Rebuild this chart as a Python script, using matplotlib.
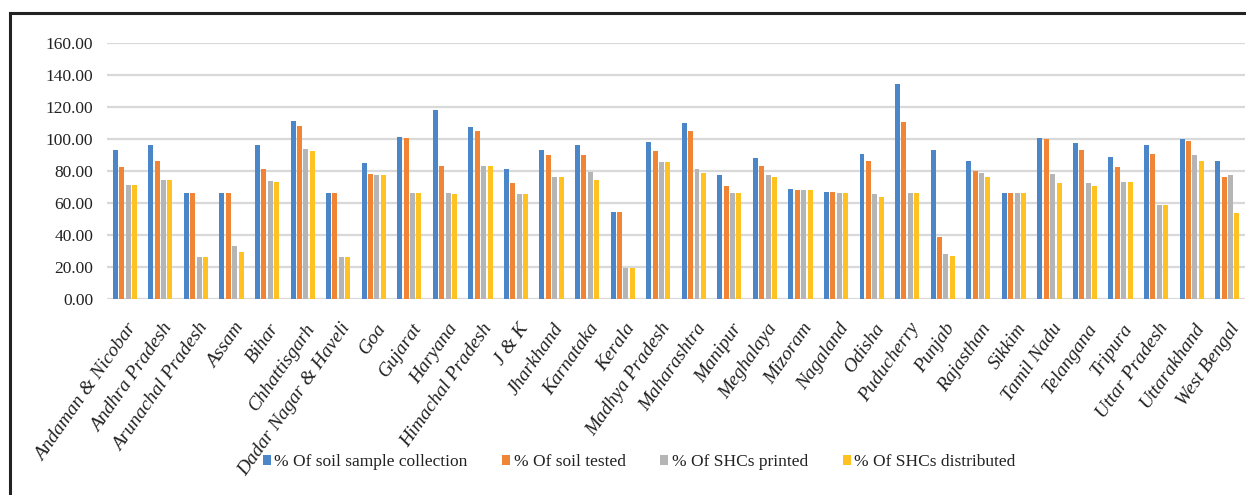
import numpy as np
import matplotlib
matplotlib.use("Agg")
import matplotlib.pyplot as plt
from matplotlib.lines import Line2D

# State-wise progress of soil health card scheme (%)
states = ["Andaman & Nicobar", "Andhra Pradesh", "Arunachal Pradesh", "Assam", "Bihar",
          "Chhattisgarh", "Dadar Nagar & Haveli", "Goa", "Gujarat", "Haryana",
          "Himachal Pradesh", "J & K", "Jharkhand", "Karnataka", "Kerala",
          "Madhya Pradesh", "Maharashtra", "Manipur", "Meghalaya", "Mizoram",
          "Nagaland", "Odisha", "Puducherry", "Punjab", "Rajasthan", "Sikkim",
          "Tamil Nadu", "Telangana", "Tripura", "Uttar Pradesh", "Uttarakhand",
          "West Bengal"]

sample_collection = [93.1, 96.4, 66.3, 66.3, 96.4, 111.4, 66.3, 84.8, 101.4, 118.0,
                     107.2, 81.2, 93.1, 96.4, 54.6, 98.1, 109.7, 77.3, 88.1, 68.8,
                     67.1, 90.6, 134.0, 93.1, 86.4, 66.3, 100.6, 97.2, 88.9, 96.4,
                     99.7, 86.4]
soil_tested = [82.3, 86.4, 66.3, 66.3, 81.5, 108.0, 66.3, 78.1, 100.6, 83.1,
               104.7, 72.3, 89.8, 89.8, 54.6, 92.3, 104.7, 70.6, 83.1, 67.9,
               67.1, 86.4, 110.5, 39.1, 79.8, 66.3, 99.7, 93.1, 82.3, 90.6,
               98.9, 76.5]
shc_printed = [71.5, 74.6, 26.4, 33.0, 73.8, 93.9, 26.4, 77.3, 66.3, 66.3,
               83.1, 65.7, 76.5, 79.6, 19.7, 85.4, 81.2, 66.3, 77.3, 67.9,
               66.3, 65.7, 66.3, 28.1, 79.0, 66.3, 78.1, 72.3, 73.1, 58.8,
               89.8, 77.3]
shc_distributed = [71.5, 74.6, 26.4, 29.3, 72.9, 92.3, 26.4, 77.3, 66.3, 65.5,
                   83.1, 65.7, 76.5, 74.6, 19.7, 85.4, 78.8, 66.3, 76.5, 67.9,
                   66.3, 63.8, 66.3, 27.2, 76.5, 66.3, 72.3, 70.6, 73.1, 58.8,
                   86.4, 54.0]

series = [
    ("% Of soil sample collection", sample_collection, "#4a86c8"),
    ("% Of soil tested", soil_tested, "#f08536"),
    ("% Of SHCs printed", shc_printed, "#b5b5b5"),
    ("% Of SHCs distributed", shc_distributed, "#ffc222"),
]

plt.rcParams["font.family"] = ["Liberation Serif", "DejaVu Serif"]

fig = plt.figure(figsize=(12.46, 4.95), dpi=100)
ax = fig.add_axes([0.0859, 0.3953, 0.9133, 0.5184])

x = np.arange(len(states))
width = 0.14
offsets = [-0.27, -0.09, 0.09, 0.27]
handles = []
for (label, vals, color), off in zip(series, offsets):
    b = ax.bar(x + off, vals, width, color=color, label=label, zorder=3)
    handles.append(b)

ax.set_xlim(-0.5, len(states) - 0.5)
ax.set_ylim(0, 160)
ax.set_yticks(np.arange(0, 161, 20))
ax.set_yticklabels([f"{v:.2f}" for v in np.arange(0, 161, 20)], fontsize=12.5)
ax.yaxis.grid(True, color="#d9d9d9", linewidth=1.6, zorder=0)
ax.set_axisbelow(True)
for s in ax.spines.values():
    s.set_visible(False)
ax.tick_params(axis="y", length=0, pad=10, labelcolor="#222222")
ax.tick_params(axis="x", length=0, pad=15)

ax.set_xticks(x + 0.05)
ax.set_xticklabels(states, rotation=55, ha="right", rotation_mode="anchor",
                   fontsize=14, style="italic", color="#222222")

fig.legend(handles=handles, loc="center", bbox_to_anchor=(0.513, 0.066), ncol=4,
           frameon=False, fontsize=12.5, handlelength=0.45, handleheight=0.55,
           handletextpad=0.2, columnspacing=2.0, labelcolor="#222222")

# frame lines along top and left edge
fig.add_artist(Line2D([0.008, 1.0], [0.9737, 0.9737], color="#222222", linewidth=2.2,
                      transform=fig.transFigure))
fig.add_artist(Line2D([0.008, 0.008], [0.0, 0.9737], color="#222222", linewidth=2.2,
                      transform=fig.transFigure))

fig.savefig("out.png", dpi=100)
